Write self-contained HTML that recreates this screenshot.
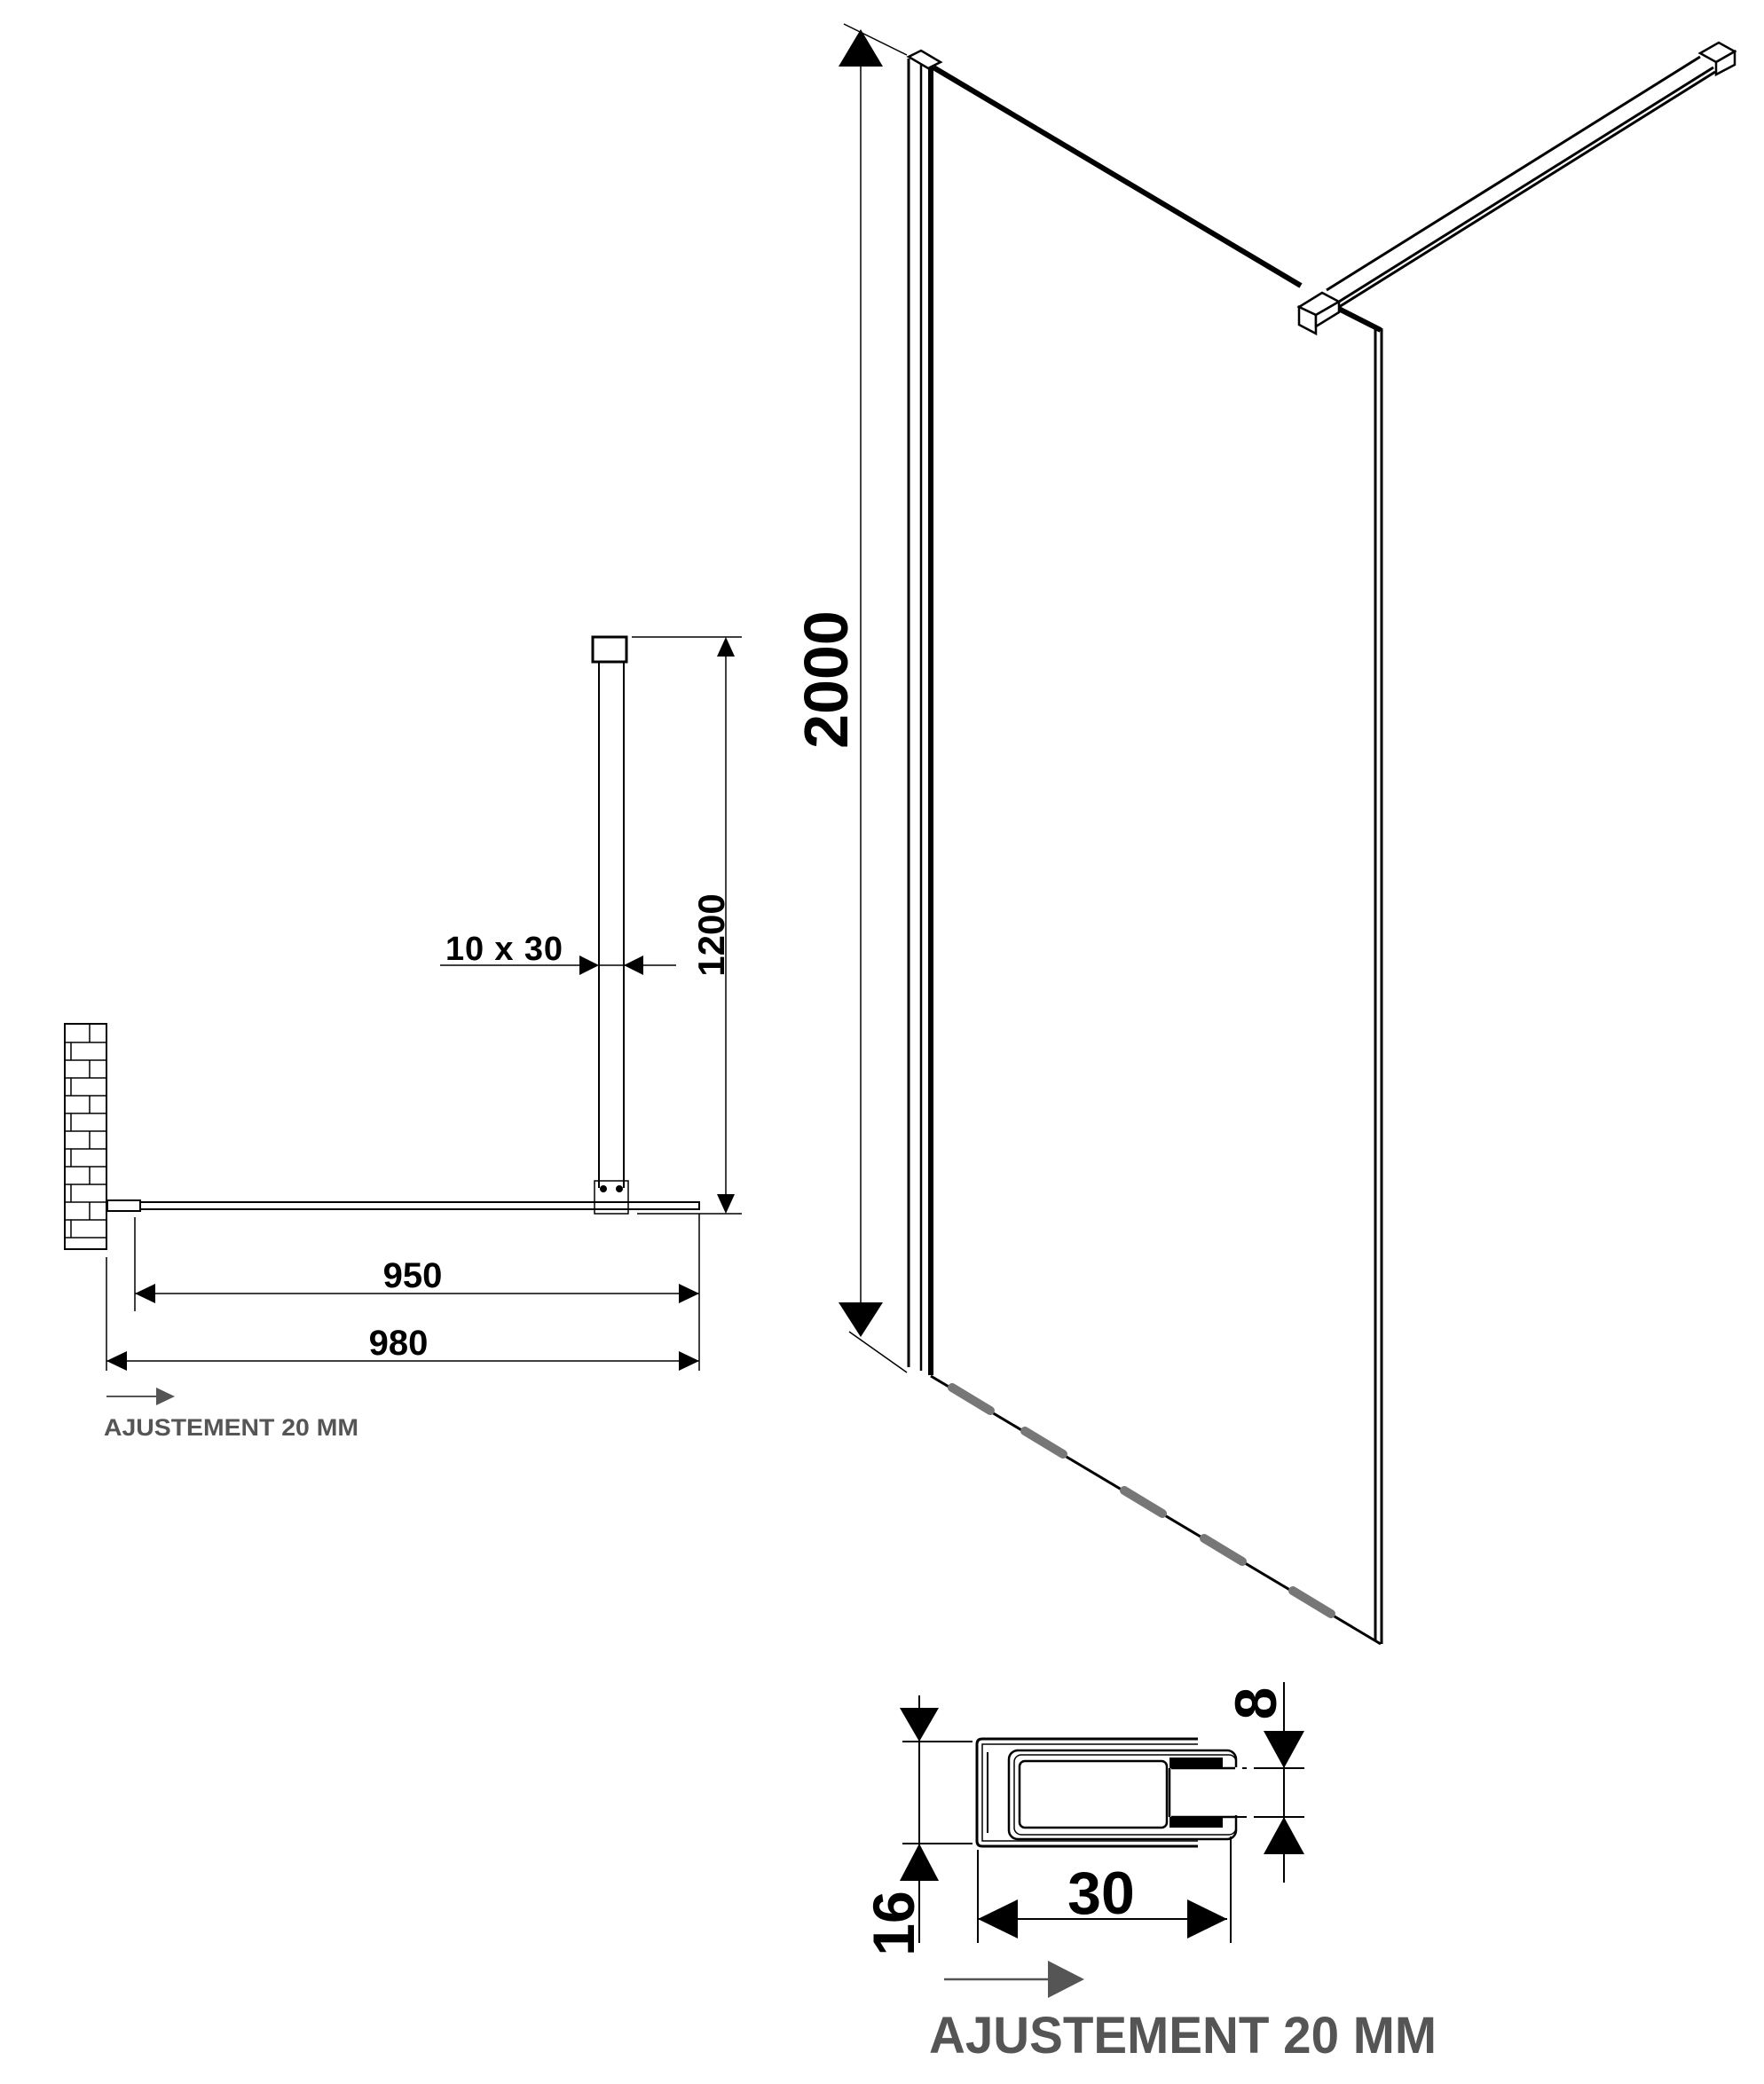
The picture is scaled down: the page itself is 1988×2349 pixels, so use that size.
<!DOCTYPE html>
<html><head><meta charset="utf-8"><style>
html,body{margin:0;padding:0;background:#fff}
svg{display:block}
text{font-family:"Liberation Sans",sans-serif;font-weight:bold}
</style></head><body>
<svg width="1988" height="2349" viewBox="0 0 1988 2349" xmlns="http://www.w3.org/2000/svg">
<rect width="1988" height="2349" fill="#fff"/>
<g stroke="#000" fill="none" stroke-width="2">
<rect x="73" y="1154" width="47" height="254" stroke-width="2"/>
<g stroke-width="1.5">
<line x1="73" y1="1175" x2="120" y2="1175"/><line x1="73" y1="1195" x2="120" y2="1195"/>
<line x1="73" y1="1215" x2="120" y2="1215"/><line x1="73" y1="1235" x2="120" y2="1235"/>
<line x1="73" y1="1255" x2="120" y2="1255"/><line x1="73" y1="1275" x2="120" y2="1275"/>
<line x1="73" y1="1295" x2="120" y2="1295"/><line x1="73" y1="1315" x2="120" y2="1315"/>
<line x1="73" y1="1335" x2="120" y2="1335"/><line x1="73" y1="1355" x2="120" y2="1355"/>
<line x1="73" y1="1375" x2="120" y2="1375"/><line x1="73" y1="1395" x2="120" y2="1395"/>
<line x1="101" y1="1154" x2="101" y2="1175"/><line x1="80" y1="1175" x2="80" y2="1195"/>
<line x1="101" y1="1195" x2="101" y2="1215"/><line x1="80" y1="1215" x2="80" y2="1235"/>
<line x1="101" y1="1235" x2="101" y2="1255"/><line x1="80" y1="1255" x2="80" y2="1275"/>
<line x1="101" y1="1275" x2="101" y2="1295"/><line x1="80" y1="1295" x2="80" y2="1315"/>
<line x1="101" y1="1315" x2="101" y2="1335"/><line x1="80" y1="1335" x2="80" y2="1355"/>
<line x1="101" y1="1355" x2="101" y2="1375"/><line x1="80" y1="1375" x2="80" y2="1395"/>
</g>
<rect x="121" y="1353" width="37" height="12"/>
<rect x="158" y="1355" width="630" height="8"/>
<rect x="668" y="718" width="38" height="28" stroke-width="3"/>
<line x1="675" y1="746" x2="675" y2="1339"/><line x1="703" y1="746" x2="703" y2="1339"/>
<rect x="670" y="1331" width="38" height="37" stroke-width="1.5"/>
<circle cx="680" cy="1340" r="3" fill="#000"/><circle cx="698" cy="1340" r="3" fill="#000"/>
<line x1="712" y1="718" x2="836" y2="718" stroke-width="1.5"/>
<line x1="718" y1="1368" x2="836" y2="1368" stroke-width="1.5"/>
<line x1="818" y1="730" x2="818" y2="1356" stroke-width="1.5"/>
</g>
<g fill="#000">
<polygon points="818,718 808,740 828,740"/><polygon points="818,1368 808,1346 828,1346"/>
<line x1="496" y1="1088" x2="668" y2="1088" stroke="#000" stroke-width="1.5"/>
<line x1="675" y1="1088" x2="703" y2="1088" stroke="#000" stroke-width="1.5"/>
<line x1="703" y1="1088" x2="762" y2="1088" stroke="#000" stroke-width="1.5"/>
<polygon points="675,1088 653,1077 653,1099"/><polygon points="703,1088 725,1077 725,1099"/>
<g stroke="#000" stroke-width="1.5">
<line x1="152" y1="1372" x2="152" y2="1478"/><line x1="120" y1="1417" x2="120" y2="1545"/>
<line x1="788" y1="1368" x2="788" y2="1545"/>
<line x1="152" y1="1458" x2="788" y2="1458"/><line x1="120" y1="1534" x2="788" y2="1534"/>
</g>
<polygon points="152,1458 175,1447 175,1469"/><polygon points="788,1458 765,1447 765,1469"/>
<polygon points="120,1534 143,1523 143,1545"/><polygon points="788,1534 765,1523 765,1545"/>
<text x="465" y="1451" font-size="40" text-anchor="middle">950</text>
<text x="449" y="1527" font-size="40" text-anchor="middle">980</text>
<text x="502" y="1082" font-size="38" textLength="132">10 x 30</text>
<text transform="translate(816,1054) rotate(-90)" font-size="42" text-anchor="middle">1200</text>
</g>
<g fill="#555">
<line x1="120" y1="1574" x2="180" y2="1574" stroke="#555" stroke-width="2"/>
<polygon points="197,1574 176,1564 176,1584"/>
<text x="117" y="1618" font-size="27" textLength="287" lengthAdjust="spacingAndGlyphs">AJUSTEMENT 20 MM</text>
</g>

<g stroke="#000" fill="none">
<line x1="951" y1="27" x2="1022" y2="62" stroke-width="1.5"/>
<line x1="957" y1="1501" x2="1022" y2="1547" stroke-width="1.5"/>
<line x1="970" y1="60" x2="970" y2="1480" stroke-width="1.5"/>
<line x1="1024" y1="66" x2="1024" y2="1541" stroke-width="3"/>
<line x1="1038" y1="70" x2="1038" y2="1545" stroke-width="2.5"/>
<line x1="1049" y1="74" x2="1049" y2="1550" stroke-width="6"/>
<polygon points="1024,64 1038,57 1060,70 1046,77" stroke-width="2.5" fill="#fff"/>
<line x1="1052" y1="76" x2="1466" y2="322" stroke-width="6"/>
<line x1="1493" y1="340" x2="1556" y2="372" stroke-width="6"/>
<line x1="1550" y1="368" x2="1550" y2="1850" stroke-width="3"/>
<line x1="1557" y1="370" x2="1557" y2="1853" stroke-width="3"/>
<line x1="1049" y1="1551" x2="1556" y2="1853" stroke-width="3"/>
<line x1="1495" y1="327" x2="1916" y2="64" stroke-width="3"/>
<line x1="1509" y1="340" x2="1931" y2="76" stroke-width="3"/>
<line x1="1509" y1="346" x2="1933" y2="81" stroke-width="3"/>
<polygon points="1916,60 1937,48 1955,58 1934,70" stroke-width="2.5" fill="#fff"/>
<polygon points="1934,70 1955,58 1955,73 1934,84" stroke-width="2.5" fill="#fff"/>
<polygon points="1464,346 1490,330 1509,340 1483,355" stroke-width="2.5" fill="#fff"/>
<polygon points="1464,346 1483,355 1483,376 1464,366" stroke-width="2.5" fill="#fff"/>
<polygon points="1483,355 1509,340 1509,352 1483,368" stroke-width="2.5" fill="#fff"/>
</g>
<g fill="#000">
<polygon points="970,33 945,75 995,75"/><polygon points="970,1507 945,1468 995,1468"/>
<text transform="translate(955,766) rotate(-90)" font-size="70" text-anchor="middle">2000</text>
</g>
<g stroke="#777" stroke-width="10" stroke-linecap="round">
<line x1="1073" y1="1564" x2="1116" y2="1590"/>
<line x1="1155" y1="1613" x2="1198" y2="1639"/>
<line x1="1267" y1="1680" x2="1310" y2="1706"/>
<line x1="1357" y1="1734" x2="1400" y2="1760"/>
<line x1="1457" y1="1793" x2="1500" y2="1819"/>
</g>

<g stroke="#000" fill="none" stroke-width="2">
<line x1="1036" y1="1911" x2="1036" y2="2190" stroke-width="2"/>
<line x1="1017" y1="1963" x2="1096" y2="1963"/><line x1="1017" y1="2078" x2="1096" y2="2078"/>
<line x1="1102" y1="2085" x2="1102" y2="2190"/><line x1="1387" y1="2070" x2="1387" y2="2190"/>
<line x1="1102" y1="2163" x2="1383" y2="2163"/>
<line x1="1447" y1="1896" x2="1447" y2="2122"/>
<line x1="1413" y1="1993" x2="1470" y2="1993"/><line x1="1413" y1="2048" x2="1470" y2="2048"/>
<line x1="1392" y1="1993" x2="1405" y2="1993"/><line x1="1392" y1="2048" x2="1405" y2="2048"/>
<path d="M1350,1960 H1107 Q1101,1960 1101,1966 V2075 Q1101,2081 1107,2081 H1350" stroke-width="3"/>
<path d="M1350,1966 H1107 V2075 H1350" stroke-width="1.5"/>
<path d="M1113,1975 V2066" stroke-width="2"/>
<rect x="1137" y="1973" width="256" height="100" rx="10" stroke-width="2.5"/>
<rect x="1143" y="1978" width="250" height="90" rx="8" stroke-width="1.5"/>
<rect x="1149" y="1985" width="166" height="75" rx="6" stroke-width="2.5"/>
<rect x="1320" y="1992" width="80" height="54" fill="#fff" stroke="none"/>
<line x1="1320" y1="1993" x2="1392" y2="1993" stroke-width="2.5"/>
<line x1="1320" y1="2048" x2="1392" y2="2048" stroke-width="2.5"/>
<line x1="1318" y1="1993" x2="1318" y2="2048" stroke-width="2.5"/>
</g>
<g fill="#000">
<rect x="1318" y="1981" width="60" height="12"/>
<rect x="1318" y="2048" width="60" height="12"/>
<polygon points="1036,1963 1014,1925 1058,1925"/>
<polygon points="1036,2078 1014,2120 1058,2120"/>
<polygon points="1447,1993 1424,1951 1470,1951"/>
<polygon points="1447,2048 1424,2090 1470,2090"/>
<polygon points="1102,2163 1147,2141 1147,2185"/>
<polygon points="1383,2163 1338,2141 1338,2185"/>
<text x="1241" y="2157" font-size="68" text-anchor="middle">30</text>
<text transform="translate(1030,2168) rotate(-90)" font-size="66" text-anchor="middle">16</text>
<text transform="translate(1438,1920) rotate(-90)" font-size="66" text-anchor="middle">8</text>
</g>
<g fill="#555">
<line x1="1064" y1="2231" x2="1190" y2="2231" stroke="#555" stroke-width="2.5"/>
<polygon points="1222,2231 1181,2210 1181,2252"/>
<text x="1047" y="2314" font-size="58" textLength="572" lengthAdjust="spacingAndGlyphs">AJUSTEMENT 20 MM</text>
</g>
</svg>
</body></html>
